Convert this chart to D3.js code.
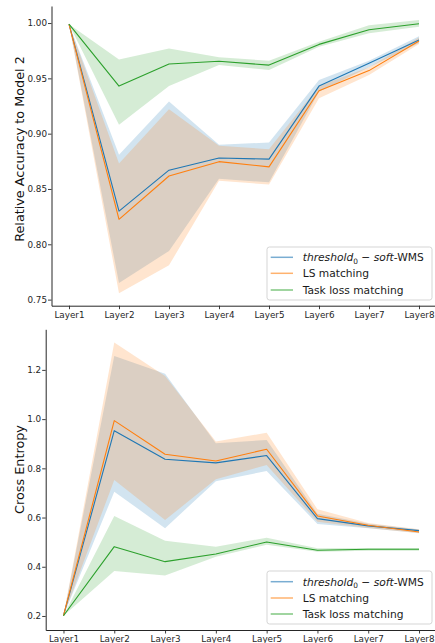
<!DOCTYPE html>
<html>
<head>
<meta charset="utf-8">
<script src="https://cdn.jsdelivr.net/npm/d3@7"></script>
<style>
  html, body { margin: 0; padding: 0; background: #fff; }
  svg { display: block; font-family: "DejaVu Sans", sans-serif; }
</style>
</head>
<body>
<svg id="chart" width="435" height="643"></svg>
<script>
// Layers on the shared x axis
const layers = ["Layer1", "Layer2", "Layer3", "Layer4", "Layer5", "Layer6", "Layer7", "Layer8"];

// Relative accuracy to Model 2: mean and band (lower / upper)
const accThrMean = [0.999, 0.830, 0.867, 0.878, 0.877, 0.943, 0.9636, 0.9846];
const accThrLo   = [0.999, 0.765, 0.794, 0.8593, 0.856, 0.938, 0.960, 0.982];
const accThrHi   = [0.999, 0.881, 0.929, 0.890, 0.892, 0.9485, 0.966, 0.988];
const accLsMean  = [0.999, 0.8226, 0.8617, 0.8747, 0.870, 0.9388, 0.957, 0.9837];
const accLsLo    = [0.999, 0.7557, 0.781, 0.8575, 0.854, 0.932, 0.953, 0.981];
const accLsHi    = [0.999, 0.873, 0.922, 0.889, 0.886, 0.943, 0.960, 0.987];
const accTaskMean = [0.999, 0.943, 0.963, 0.9654, 0.962, 0.9807, 0.994, 0.9994];
const accTaskLo   = [0.999, 0.908, 0.943, 0.962, 0.9575, 0.9786, 0.9907, 0.9967];
const accTaskHi   = [0.999, 0.967, 0.977, 0.969, 0.966, 0.983, 0.998, 1.0027];

// Cross entropy: mean and band (lower / upper)
const ceThrMean = [0.201, 0.953, 0.837, 0.822, 0.852, 0.5956, 0.566, 0.547];
const ceThrLo   = [0.201, 0.705, 0.557, 0.7475, 0.789, 0.574, 0.556, 0.537];
const ceThrHi   = [0.201, 1.257, 1.184, 0.902, 0.9154, 0.615, 0.575, 0.551];
const ceLsMean  = [0.201, 0.994, 0.857, 0.830, 0.8776, 0.6065, 0.5687, 0.5415];
const ceLsLo    = [0.201, 0.753, 0.590, 0.7557, 0.814, 0.583, 0.558, 0.536];
const ceLsHi    = [0.201, 1.311, 1.175, 0.9086, 0.945, 0.634, 0.578, 0.552];
const ceTaskMean = [0.201, 0.4817, 0.4207, 0.452, 0.5008, 0.467, 0.471, 0.471];
const ceTaskLo   = [0.201, 0.383, 0.364, 0.441, 0.489, 0.461, 0.465, 0.465];
const ceTaskHi   = [0.201, 0.6065, 0.506, 0.4817, 0.518, 0.475, 0.476, 0.476];

// Tick values
const accTicks = [0.75, 0.80, 0.85, 0.90, 0.95, 1.00];
const ceTicks  = [0.2, 0.4, 0.6, 0.8, 1.0, 1.2];

const seriesColors = ["#1f77b4", "#ff7f0e", "#2ca02c"];
const seriesNames = ["threshold", "LS matching", "Task loss matching"];

const svg = d3.select("#chart");

function drawPanel(opt) {
  const g = svg.append("g");
  const x = d3.scaleLinear().domain([-0.35, layers.length - 1 + 0.35]).range([opt.left, opt.right]);
  const y = d3.scaleLinear().domain(opt.yDomain).range([opt.bottom, opt.top]);

  const series = opt.series;

  // confidence bands
  const area = d3.area()
    .x((d, i) => x(i))
    .y0(d => y(d[0]))
    .y1(d => y(d[1]));
  series.forEach((s, k) => {
    const band = s.lo.map((v, i) => [v, s.hi[i]]);
    g.append("path")
      .datum(band)
      .attr("d", area)
      .attr("fill", seriesColors[k])
      .attr("fill-opacity", 0.2)
      .attr("stroke", "none");
  });

  // mean lines
  const line = d3.line().x((d, i) => x(i)).y(d => y(d));
  series.forEach((s, k) => {
    g.append("path")
      .datum(s.mean)
      .attr("d", line)
      .attr("fill", "none")
      .attr("stroke", seriesColors[k])
      .attr("stroke-width", 1.1)
      .attr("stroke-linejoin", "round");
  });

  // axes
  const yAxis = d3.axisLeft(y)
    .tickValues(opt.yTicks)
    .tickFormat(d3.format(opt.yFormat))
    .tickSize(3.5).tickSizeOuter(0).tickPadding(1);
  const ya = g.append("g").attr("transform", `translate(${opt.left},0)`).call(yAxis);

  const xAxis = d3.axisBottom(x)
    .tickValues(d3.range(layers.length))
    .tickFormat(i => layers[i])
    .tickSize(3.5).tickSizeOuter(0).tickPadding(2.5);
  const xa = g.append("g").attr("transform", `translate(0,${opt.bottom})`).call(xAxis);

  [ya, xa].forEach(a => {
    a.select(".domain").attr("stroke", "#262626").attr("stroke-width", 1);
    a.selectAll(".tick line").attr("stroke", "#262626").attr("stroke-width", 0.9);
    a.selectAll(".tick text").attr("fill", "#262626")
      .style("font-family", "DejaVu Sans, sans-serif").style("font-size", "8.8px");
  });

  // y label
  g.append("text")
    .attr("transform", `translate(${opt.ylabelX},${opt.ylabelY}) rotate(-90)`)
    .attr("text-anchor", "middle")
    .attr("fill", "#111")
    .style("font-size", "12.8px")
    .text(opt.ylabel);

  // legend
  const lg = g.append("g").attr("transform", `translate(${opt.legend.x},${opt.legend.y})`);
  lg.append("rect")
    .attr("width", opt.legend.w).attr("height", opt.legend.h)
    .attr("rx", 2.5)
    .attr("fill", "#fff").attr("fill-opacity", 0.85)
    .attr("stroke", "#d0d0d0").attr("stroke-width", 0.9);
  seriesNames.forEach((name, k) => {
    const cy = opt.legend.rows[k];
    lg.append("line")
      .attr("x1", 3.7).attr("x2", 26)
      .attr("y1", cy).attr("y2", cy)
      .attr("stroke", seriesColors[k]).attr("stroke-opacity", 0.6)
      .attr("stroke-width", 1.5);
    const t = lg.append("text")
      .attr("x", 35.7).attr("y", cy + 3.8)
      .attr("fill", "#1a1a1a")
      .style("font-size", "10.7px");
    if (k === 0) {
      t.append("tspan").style("font-style", "italic").text("threshold");
      t.append("tspan").attr("dy", 2.6).style("font-size", "7.4px").text("0");
      t.append("tspan").attr("dy", -2.6).text(" \u2212 ");
      t.append("tspan").style("font-style", "italic").text("soft");
      t.append("tspan").text("-WMS");
    } else {
      t.text(name);
    }
  });
}

drawPanel({
  left: 51.5, right: 436.5, top: 6, bottom: 305.7,
  yDomain: [0.7445, 1.0154],
  yTicks: accTicks, yFormat: ".2f",
  ylabel: "Relative Accuracy to Model 2", ylabelX: 24, ylabelY: 149,
  series: [
    { mean: accThrMean, lo: accThrLo, hi: accThrHi },
    { mean: accLsMean, lo: accLsLo, hi: accLsHi },
    { mean: accTaskMean, lo: accTaskLo, hi: accTaskHi }
  ],
  legend: { x: 267, y: 247, w: 165, h: 53, rows: [10.3, 26.3, 43] }
});

drawPanel({
  left: 45.7, right: 436.8, top: 329.3, bottom: 630,
  yDomain: [0.143, 1.365],
  yTicks: ceTicks, yFormat: ".1f",
  ylabel: "Cross Entropy", ylabelX: 24, ylabelY: 469.5,
  series: [
    { mean: ceThrMean, lo: ceThrLo, hi: ceThrHi },
    { mean: ceLsMean, lo: ceLsLo, hi: ceLsHi },
    { mean: ceTaskMean, lo: ceTaskLo, hi: ceTaskHi }
  ],
  legend: { x: 267, y: 571, w: 165, h: 53, rows: [10.7, 27, 43] }
});
</script>
</body>
</html>
